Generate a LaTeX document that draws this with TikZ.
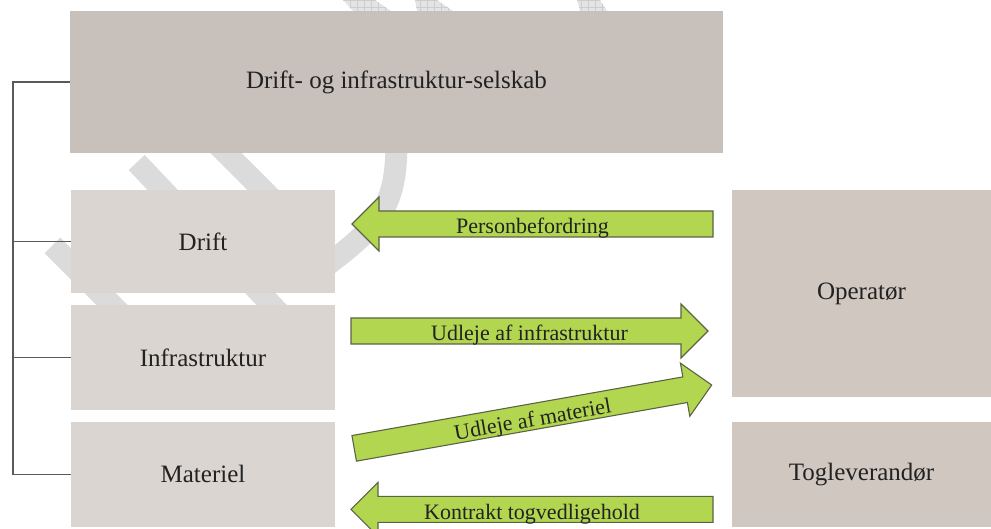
\documentclass[tikz,border=0pt]{standalone}
\usepackage{fontspec}
\setmainfont{Liberation Serif}
\usetikzlibrary{calc}
\definecolor{topfill}{HTML}{C7C0BB}
\definecolor{leftfill}{HTML}{DBD5D1}
\definecolor{rightfill}{HTML}{D0C7C0}
\definecolor{agreen}{HTML}{B3D650}
\definecolor{aline}{HTML}{5A6445}
\definecolor{wm}{HTML}{DBDBDB}
\definecolor{wmhatch}{HTML}{E4E4E4}
\definecolor{wmgrid}{HTML}{CDCDCD}
\definecolor{busgray}{HTML}{5A5A5A}
\definecolor{txt}{HTML}{222222}

\newcommand\GArrow[3]{%
  \coordinate (hb) at ($(#2)!27pt!(#1)$);
  \draw[garrow] ($(#1)!13pt!90:(#2)$) -- ($(hb)!13pt!-90:(#1)$) -- ($(hb)!27pt!-90:(#1)$) -- (#2)
     -- ($(hb)!27pt!90:(#1)$) -- ($(hb)!13pt!90:(#1)$) -- ($(#1)!13pt!-90:(#2)$) -- cycle;
  \path ($(#1)+(0,-4.5)$) -- node[alabel] {#3} ($(#2)+(0,-4.5)$);
}

\tikzset{
  box/.style={rectangle, inner sep=0pt, outer sep=0pt, anchor=north west, text=txt,
    font=\fontsize{25}{30}\selectfont},
  topbox/.style={box, fill=topfill, minimum width=653pt, minimum height=142pt},
  leftbox/.style={box, fill=leftfill, minimum width=264pt},
  rightbox/.style={box, fill=rightfill, minimum width=259pt},
  garrow/.style={fill=agreen, draw=aline, line width=1.1pt, line join=miter},
  alabel/.style={sloped, text=txt, font=\fontsize{22}{26}\selectfont, inner sep=0pt},
  busline/.style={draw=busgray, line width=1.3pt},
  wmstripe/.style={draw=wm, line width=22pt},
  wmpiece/.style={fill=wmhatch},
}

\begin{document}
\begin{tikzpicture}[x=1pt, y=1pt]
\useasboundingbox (0,0) rectangle (991,-529);
\clip (0,0) rectangle (991,-529);

% watermark
\draw[wmstripe] (136.7,-162.5) -- (300,-335);
\draw[wmstripe] (160,-87) -- (300,-227);
\draw[wmstripe] (52.5,-245.5) -- (195,-388);
\draw[wmstripe] (396.5,-110) -- (396.5,-140) .. controls (396.5,-200) and (385,-220) .. (335,-259) -- (318,-272);
\begin{scope}
  \clip (343,0) -- (375,0) -- (391,-11) -- (353,-11) -- cycle
        (415,0) -- (437,0) -- (453,-11) -- (417,-11) -- cycle
        (577,0) -- (600,0) -- (607,-11) -- (580,-11) -- cycle;
  \fill[wmpiece] (330,1) rectangle (620,-12);
  \draw[wmgrid, line width=0.6pt, step=7] (330,-12) grid (620,1);
\end{scope}

% boxes
\node[topbox] (top) at (70,-11) {Drift- og infrastruktur-selskab};
\node[leftbox, minimum height=103pt] (drift) at (71,-190) {Drift};
\node[leftbox, minimum height=105pt] (infra) at (71,-305) {Infrastruktur};
\node[leftbox, minimum height=105.3pt] (mat) at (71,-421.7) {Materiel};
\node[rightbox, minimum height=207pt] (oper) at (732,-190) {Operatør};
\node[rightbox, minimum height=105.3pt] (togl) at (732,-421.7) {Togleverandør};

% bus
\coordinate (bus) at (13,0);
\draw[busline] (top.west) -- (top.west -| bus) -- (mat.west -| bus) -- (mat.west);
\draw[busline] (drift.west) -- (drift.west -| bus);
\draw[busline] (infra.west) -- (infra.west -| bus);

% arrows
\coordinate (a1tail) at ($(drift.east -| oper.west)+(-19,17.5)$);
\coordinate (a1tip) at ($(drift.east)+(17,17.5)$);
\coordinate (a2tail) at ($(infra.east)+(16,26.5)$);
\coordinate (a2tip) at ($(infra.east -| oper.west)+(-24,26.5)$);
\coordinate (a3tail) at ($(mat.east)+(19.2,26)$);
\coordinate (a3tip) at ($(oper.south west)+(-20.3,12)$);
\coordinate (a4tail) at ($(togl.west)+(-19,-35)$);
\coordinate (a4tip) at ($(mat.east)+(16,-35)$);

\GArrow{a1tail}{a1tip}{Personbefordring}
\GArrow{a2tail}{a2tip}{Udleje af infrastruktur}
\GArrow{a3tail}{a3tip}{Udleje af materiel}
\GArrow{a4tail}{a4tip}{Kontrakt togvedligehold}
\end{tikzpicture}
\end{document}
